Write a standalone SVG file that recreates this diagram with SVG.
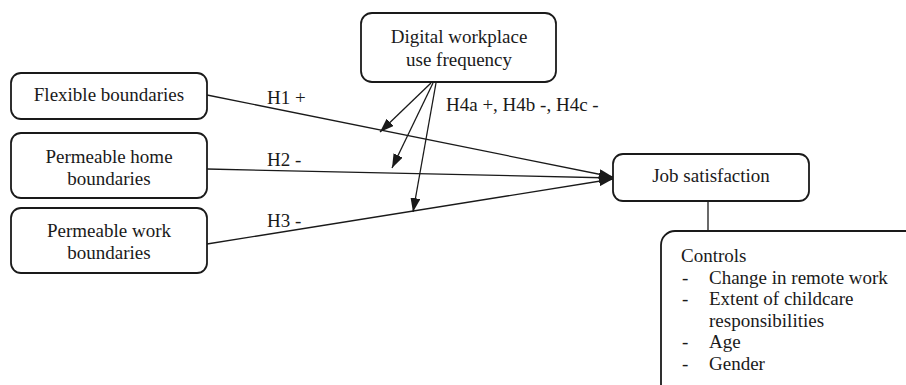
<svg xmlns="http://www.w3.org/2000/svg" width="906" height="385" viewBox="0 0 906 385">
<style>
.box{fill:#fff;stroke:#1a1a1a;stroke-width:1.8}
.c{text-anchor:middle}
.ln{stroke:#1a1a1a;stroke-width:1.3;fill:none}
</style>
<defs>
<marker id="ah" viewBox="0 0 14 10" refX="14" refY="5" markerWidth="14" markerHeight="10" markerUnits="userSpaceOnUse" orient="auto">
<path d="M0,0 L14,5 L0,10 Z" fill="#1a1a1a"/>
</marker>
</defs>
<rect width="906" height="385" fill="#fff"/>
<g font-family="Liberation Serif, Times New Roman, serif" font-size="19" fill="#1a1a1a">
<g id="connectors">
<line class="ln" x1="207" y1="95" x2="613" y2="177" marker-end="url(#ah)"/>
<line class="ln" x1="207" y1="169" x2="613" y2="178" marker-end="url(#ah)"/>
<line class="ln" x1="207" y1="244" x2="613" y2="179" marker-end="url(#ah)"/>
<line class="ln" x1="431" y1="83" x2="380" y2="132" marker-end="url(#ah)"/>
<line class="ln" x1="433" y1="83" x2="392" y2="168" marker-end="url(#ah)"/>
<line class="ln" x1="436" y1="83" x2="413" y2="212" marker-end="url(#ah)"/>
<line class="ln" x1="708" y1="201" x2="708" y2="231"/>
<text x="267" y="104">H1 +</text>
<text x="267" y="166">H2 -</text>
<text x="267" y="227">H3 -</text>
<text x="446" y="111">H4a +, H4b -, H4c -</text>
</g>
<g id="digital">
<rect class="box" x="361" y="13" width="195" height="69" rx="11"/>
<text class="c" x="459" y="43">Digital workplace</text>
<text class="c" x="459" y="66">use frequency</text>
</g>
<g id="flexible">
<rect class="box" x="11" y="73" width="196" height="46" rx="10"/>
<text class="c" x="109" y="101">Flexible boundaries</text>
</g>
<g id="home">
<rect class="box" x="11" y="133" width="196" height="65" rx="10"/>
<text class="c" x="109" y="163">Permeable home</text>
<text class="c" x="109" y="185">boundaries</text>
</g>
<g id="work">
<rect class="box" x="11" y="208" width="196" height="65" rx="10"/>
<text class="c" x="109" y="237">Permeable work</text>
<text class="c" x="109" y="259">boundaries</text>
</g>
<g id="job">
<rect class="box" x="613" y="154" width="196" height="47" rx="10"/>
<text class="c" x="711" y="182">Job satisfaction</text>
</g>
<g id="controls">
<rect class="box" x="661" y="231" width="262" height="170" rx="14"/>
<text x="681" y="262">Controls</text>
<text x="682" y="284">-</text>
<text x="709" y="284">Change in remote work</text>
<text x="682" y="305">-</text>
<text x="709" y="305">Extent of childcare</text>
<text x="709" y="327">responsibilities</text>
<text x="682" y="348">-</text>
<text x="709" y="348">Age</text>
<text x="682" y="370">-</text>
<text x="709" y="370">Gender</text>
</g>
</g>
</svg>
